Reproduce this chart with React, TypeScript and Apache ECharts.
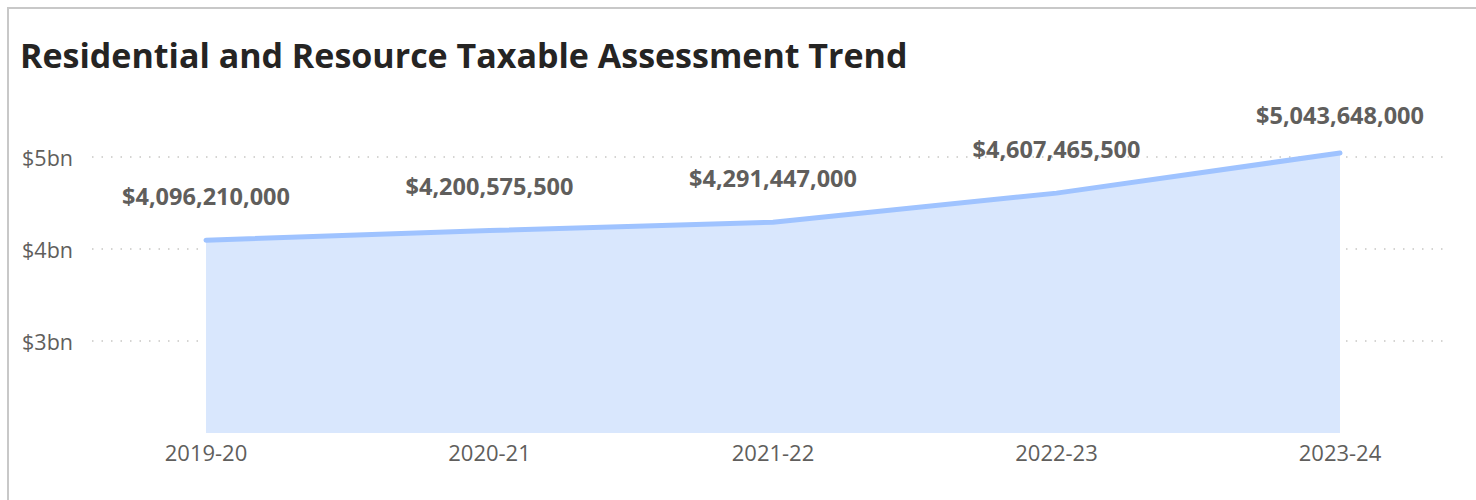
import React, { useEffect, useRef } from "react";
import * as echarts from "echarts";

const titleText = "Residential and Resource Taxable Assessment Trend";
const years = ["2019-20", "2020-21", "2021-22", "2022-23", "2023-24"];
const assessments = [4096210000, 4200575500, 4291447000, 4607465500, 5043648000];
const yMin = 2000000000;
const yMax = 6000000000;
const yStep = 1000000000;

const FONT = "'Open Sans', 'Noto Sans', sans-serif";
const GRAY = "#605e5c";

export default function App() {
  const ref = useRef<HTMLDivElement>(null);
  useEffect(() => {
    if (!ref.current) return;
    const chart = echarts.init(ref.current, undefined, { renderer: "svg" });
    const data = assessments.map((v, i) =>
      i === assessments.length - 1 ? { value: v, label: { distance: 25 } } : v
    );
    chart.setOption({
      animation: false,
      title: {
        text: titleText,
        left: 11,
        top: 29,
        padding: 0,
        textStyle: { fontFamily: FONT, fontSize: 34, fontWeight: "bold", color: "#252423" },
      },
      grid: [
        { left: 83, right: 26, top: 56, bottom: 67, containLabel: false },
        { left: 197, right: 136, top: 56, bottom: 67, containLabel: false },
      ],
      xAxis: [
        { type: "value", gridIndex: 0, show: false, min: 0, max: 1 },
        {
          type: "category",
          gridIndex: 1,
          data: years,
          boundaryGap: false,
          axisLine: { show: false },
          axisTick: { show: false },
          axisLabel: { color: GRAY, fontFamily: FONT, fontSize: 22, margin: 8 },
        },
      ],
      yAxis: [
        {
          type: "value",
          gridIndex: 0,
          min: yMin,
          max: yMax,
          interval: yStep,
          axisLine: { show: false },
          axisTick: { show: false },
          axisLabel: {
            color: GRAY,
            fontFamily: FONT,
            fontSize: 21.5,
            margin: 19,
            showMinLabel: false,
            showMaxLabel: false,
            formatter: (v: number) => "$" + Math.round(v / 1e9) + "bn",
          },
          splitLine: {
            show: true,
            showMinLine: false,
            showMaxLine: false,
            lineStyle: { color: "#c8c6c4", width: 1.5, type: [1.5, 8] },
          },
        },
        { type: "value", gridIndex: 1, min: yMin, max: yMax, interval: yStep, show: false, splitLine: { show: false } },
      ],
      series: [
        {
          type: "line",
          xAxisIndex: 1,
          yAxisIndex: 1,
          data,
          symbol: "circle",
          symbolSize: 1,
          itemStyle: { color: "#9fc3ff" },
          lineStyle: { color: "#9fc3ff", width: 5, cap: "round", join: "round" },
          areaStyle: { color: "#d9e7fd", opacity: 1 },
          label: {
            show: true,
            position: "top",
            distance: 32,
            color: GRAY,
            fontFamily: FONT,
            fontSize: 23.5,
            fontWeight: "bold",
            formatter: (p: any) => "$" + Number(p.value).toLocaleString("en-US"),
          },
        },
      ],
    });
    return () => chart.dispose();
  }, []);
  return (
    <div
      style={{
        position: "absolute",
        left: 7,
        top: 7,
        width: 1469,
        height: 493,
        borderTop: "2px solid #c8c8c8",
        borderLeft: "2px solid #c8c8c8",
        boxSizing: "border-box",
      }}
    >
      <div ref={ref} style={{ width: 1467, height: 491 }} />
    </div>
  );
}
